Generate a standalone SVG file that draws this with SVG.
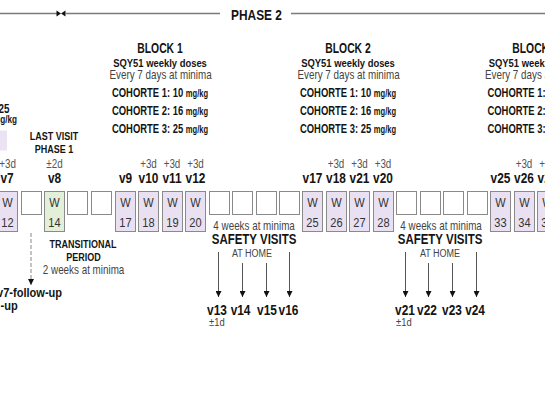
<svg xmlns="http://www.w3.org/2000/svg" width="545" height="409" viewBox="0 0 545 409">
<defs>
<style>
text { font-family: "Liberation Sans", Arial, sans-serif; transform-box: fill-box; transform-origin: 50% 50%; transform: scaleX(0.82); }
text.s { transform-origin: 0% 50%; }
text.e { transform-origin: 100% 50%; }
.b { font-weight: bold; fill: #141414; }
.r { fill: #444; }
.m { text-anchor: middle; }
.wk { fill: #e9e1f2; stroke: #8a8a8a; stroke-width: 1; }
.gr { fill: #e2efd9; stroke: #8a8a8a; stroke-width: 1; }
.em { fill: #fff; stroke: #8a8a8a; stroke-width: 1; }
.bt { font-size: 13.5px; fill: #333; text-anchor: middle; }
.vl { font-size: 14.5px; font-weight: bold; fill: #141414; text-anchor: middle; }
.tol { font-size: 12px; fill: #555; text-anchor: middle; }
.hd { font-size: 14.5px; font-weight: bold; fill: #141414; text-anchor: middle; }
text.blk { font-size: 14px; transform: scaleX(0.74); }
.sq { font-size: 11.5px; font-weight: bold; fill: #141414; text-anchor: middle; }
.ev { font-size: 12px; fill: #444; text-anchor: middle; }
text.co { font-size: 12.5px; font-weight: bold; fill: #141414; text-anchor: middle; transform: scaleX(0.755); }
.mg { font-size: 10px; }
.ln { stroke: #7a7a7a; stroke-width: 1.3; fill: none; }
.ar { stroke: #555; stroke-width: 1; fill: none; }
</style>
<marker id="ah" viewBox="0 0 6 6" refX="6" refY="3" markerWidth="6" markerHeight="6" markerUnits="userSpaceOnUse" orient="auto">
<path d="M0,0 L6,3 L0,6 Z" fill="#111"/>
</marker>
</defs>

<g id="phase2-header">
<line class="ln" x1="0" y1="13.5" x2="57" y2="13.5"/>
<path d="M56.5,10.5 L61,13.5 L56.5,16.5 Z" fill="#111"/>
<path d="M65.5,10.5 L61,13.5 L65.5,16.5 Z" fill="#111"/>
<line class="ln" x1="65" y1="13.5" x2="220" y2="13.5"/>
<text class="hd" x="256.5" y="20">PHASE 2</text>
<line class="ln" x1="291" y1="13.5" x2="545" y2="13.5"/>
</g>

<g id="phase1-remnant">
<text class="b s" x="-1.5" y="113" font-size="12">25</text>
<text class="b e" x="17" y="123" font-size="10" text-anchor="end">mg/kg</text>
<rect x="-2" y="130.5" width="9" height="20" fill="#ebe3f3"/>
</g>

<g id="last-visit">
<text class="b m" x="54" y="140" font-size="11">LAST VISIT</text>
<text class="b m" x="54" y="153" font-size="11">PHASE 1</text>
</g>

<g id="block1">
<text class="hd blk" x="160" y="53">BLOCK 1</text>
<text class="sq" x="160" y="67">SQY51 weekly doses</text>
<text class="ev" x="160.5" y="79">Every 7 days at minima</text>
<text class="co" x="160" y="97">COHORTE 1: 10 <tspan class="mg">mg/kg</tspan></text>
<text class="co" x="160" y="115">COHORTE 2: 16 <tspan class="mg">mg/kg</tspan></text>
<text class="co" x="160" y="133">COHORTE 3: 25 <tspan class="mg">mg/kg</tspan></text>
</g>
<g id="block2">
<text class="hd blk" x="348" y="53">BLOCK 2</text>
<text class="sq" x="348" y="67">SQY51 weekly doses</text>
<text class="ev" x="348.5" y="79">Every 7 days at minima</text>
<text class="co" x="348" y="97">COHORTE 1: 10 <tspan class="mg">mg/kg</tspan></text>
<text class="co" x="348" y="115">COHORTE 2: 16 <tspan class="mg">mg/kg</tspan></text>
<text class="co" x="348" y="133">COHORTE 3: 25 <tspan class="mg">mg/kg</tspan></text>
</g>
<g id="block3">
<text class="hd blk" x="535" y="53">BLOCK 3</text>
<text class="sq" x="535.5" y="67">SQY51 weekly doses</text>
<text class="ev" x="536" y="79">Every 7 days at minima</text>
<text class="co" x="535.5" y="97">COHORTE 1: 10 <tspan class="mg">mg/kg</tspan></text>
<text class="co" x="535.5" y="115">COHORTE 2: 16 <tspan class="mg">mg/kg</tspan></text>
<text class="co" x="535.5" y="133">COHORTE 3: 25 <tspan class="mg">mg/kg</tspan></text>
</g>

<g id="visit-labels">
<text class="tol" x="7.5" y="168">+3d</text><text class="vl" x="7" y="183">v7</text>
<text class="tol" x="54.5" y="168">±2d</text><text class="vl" x="54.5" y="183">v8</text>
<text class="vl" x="125.5" y="183">v9</text>
<text class="tol" x="148.5" y="168">+3d</text><text class="vl" x="148.5" y="183">v10</text>
<text class="tol" x="172" y="168">+3d</text><text class="vl" x="172" y="183">v11</text>
<text class="tol" x="195.5" y="168">+3d</text><text class="vl" x="195.5" y="183">v12</text>
<text class="vl" x="312.5" y="183">v17</text>
<text class="tol" x="336" y="168">+3d</text><text class="vl" x="336" y="183">v18</text>
<text class="tol" x="359.5" y="168">+3d</text><text class="vl" x="359.5" y="183">v21</text>
<text class="tol" x="383" y="168">+3d</text><text class="vl" x="383" y="183">v20</text>
<text class="vl" x="500.5" y="183">v25</text>
<text class="tol" x="524" y="168">+3d</text><text class="vl" x="524" y="183">v26</text>
<text class="tol" x="547.5" y="168">+3d</text><text class="vl" x="547.5" y="183">v27</text>
</g>

<g id="w12"><rect class="wk" x="-2.5" y="191.5" width="20" height="40"/><text class="bt" x="7.5" y="207">W</text><text class="bt" x="7.5" y="227">12</text></g>
<g id="e13"><rect class="em" x="21.5" y="191.5" width="20" height="23"/></g>
<g id="w14"><rect class="gr" x="44.5" y="191.5" width="20" height="40"/><text class="bt" x="54.5" y="207">W</text><text class="bt" x="54.5" y="227">14</text></g>
<g id="e15"><rect class="em" x="67.5" y="191.5" width="20" height="23"/></g>
<g id="e16"><rect class="em" x="91.5" y="191.5" width="20" height="23"/></g>
<g id="w17"><rect class="wk" x="115.5" y="191.5" width="20" height="40"/><text class="bt" x="125.5" y="207">W</text><text class="bt" x="125.5" y="227">17</text></g>
<g id="w18"><rect class="wk" x="138.5" y="191.5" width="20" height="40"/><text class="bt" x="148.5" y="207">W</text><text class="bt" x="148.5" y="227">18</text></g>
<g id="w19"><rect class="wk" x="162.5" y="191.5" width="20" height="40"/><text class="bt" x="172.5" y="207">W</text><text class="bt" x="172.5" y="227">19</text></g>
<g id="w20"><rect class="wk" x="185.5" y="191.5" width="20" height="40"/><text class="bt" x="195.5" y="207">W</text><text class="bt" x="195.5" y="227">20</text></g>
<g id="e21"><rect class="em" x="209.5" y="191.5" width="20" height="23"/></g>
<g id="e22"><rect class="em" x="232.5" y="191.5" width="20" height="23"/></g>
<g id="e23"><rect class="em" x="256.5" y="191.5" width="20" height="23"/></g>
<g id="e24"><rect class="em" x="279.5" y="191.5" width="20" height="23"/></g>
<g id="w25"><rect class="wk" x="302.5" y="191.5" width="20" height="40"/><text class="bt" x="312.5" y="207">W</text><text class="bt" x="312.5" y="227">25</text></g>
<g id="w26"><rect class="wk" x="326.5" y="191.5" width="20" height="40"/><text class="bt" x="336.5" y="207">W</text><text class="bt" x="336.5" y="227">26</text></g>
<g id="w27"><rect class="wk" x="349.5" y="191.5" width="20" height="40"/><text class="bt" x="359.5" y="207">W</text><text class="bt" x="359.5" y="227">27</text></g>
<g id="w28"><rect class="wk" x="373.5" y="191.5" width="20" height="40"/><text class="bt" x="383.5" y="207">W</text><text class="bt" x="383.5" y="227">28</text></g>
<g id="e29"><rect class="em" x="396.5" y="191.5" width="20" height="23"/></g>
<g id="e30"><rect class="em" x="420.5" y="191.5" width="20" height="23"/></g>
<g id="e31"><rect class="em" x="443.5" y="191.5" width="20" height="23"/></g>
<g id="e32"><rect class="em" x="467.5" y="191.5" width="20" height="23"/></g>
<g id="w33"><rect class="wk" x="490.5" y="191.5" width="20" height="40"/><text class="bt" x="500.5" y="207">W</text><text class="bt" x="500.5" y="227">33</text></g>
<g id="w34"><rect class="wk" x="514.5" y="191.5" width="20" height="40"/><text class="bt" x="524.5" y="207">W</text><text class="bt" x="524.5" y="227">34</text></g>
<g id="w35"><rect class="wk" x="537.5" y="191.5" width="20" height="40"/><text class="bt" x="547.5" y="207">W</text><text class="bt" x="547.5" y="227">35</text></g>

<g id="transitional">
<text class="b m" x="83" y="248" font-size="11">TRANSITIONAL</text>
<text class="b m" x="83.5" y="261" font-size="11">PERIOD</text>
<text class="r m" x="83.5" y="274" font-size="12">2 weeks at minima</text>
</g>

<g id="safety1">
<text class="r m" x="254" y="230" font-size="12">4 weeks at minima</text>
<text class="b m" x="254" y="244" font-size="14">SAFETY VISITS</text>
<text class="r m" x="252" y="257" font-size="11">AT HOME</text>
</g>
<g id="safety2">
<text class="r m" x="441" y="230" font-size="12">4 weeks at minima</text>
<text class="b m" x="440" y="244" font-size="14">SAFETY VISITS</text>
<text class="r m" x="440" y="257" font-size="11">AT HOME</text>
</g>

<g id="follow-up">
<text class="b s" x="-3" y="297" font-size="13.5">v7-follow-up</text>
<text class="b s" x="0.5" y="310.5" font-size="13.5">-up</text>
</g>

<g id="home-visits">
<text class="vl" x="217" y="315">v13</text>
<text class="vl" x="240.5" y="315">v14</text>
<text class="vl" x="267" y="315">v15</text>
<text class="vl" x="288.5" y="315">v16</text>
<text class="r s" x="209" y="326.5" font-size="11.5">±1d</text>
<text class="vl" x="405" y="315">v21</text>
<text class="vl" x="427" y="315">v22</text>
<text class="vl" x="452" y="315">v23</text>
<text class="vl" x="475" y="315">v24</text>
<text class="r s" x="396" y="326.5" font-size="11.5">±1d</text>
</g>

<g id="connectors">
<line x1="31" y1="233" x2="31" y2="285" stroke="#888" stroke-width="1" stroke-dasharray="4 2" marker-end="url(#ah)"/>
<line class="ar" x1="218.5" y1="252" x2="218.5" y2="297" marker-end="url(#ah)"/>
<line class="ar" x1="242.5" y1="263" x2="242.5" y2="297" marker-end="url(#ah)"/>
<line class="ar" x1="266.5" y1="263" x2="266.5" y2="297" marker-end="url(#ah)"/>
<line class="ar" x1="289.5" y1="252" x2="289.5" y2="297" marker-end="url(#ah)"/>
<line class="ar" x1="405.5" y1="252" x2="405.5" y2="297" marker-end="url(#ah)"/>
<line class="ar" x1="428.5" y1="263" x2="428.5" y2="297" marker-end="url(#ah)"/>
<line class="ar" x1="452.5" y1="263" x2="452.5" y2="297" marker-end="url(#ah)"/>
<line class="ar" x1="476.5" y1="252" x2="476.5" y2="297" marker-end="url(#ah)"/>
</g>
</svg>
